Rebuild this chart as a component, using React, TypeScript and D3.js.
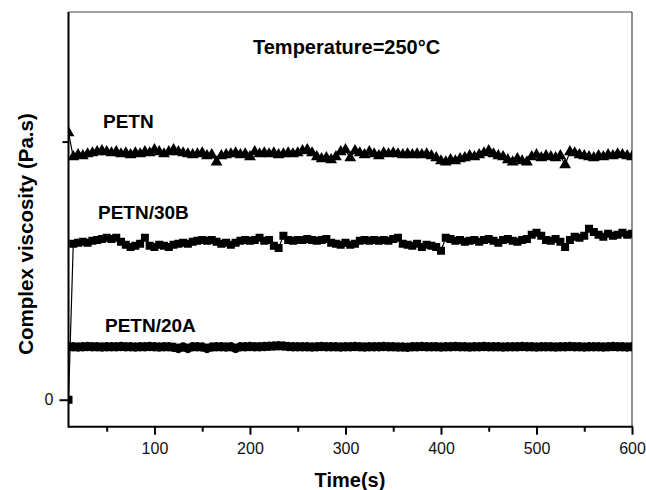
import React from "react";
import * as d3 from "d3";

// Time grid (s)
const times: number[] = [
  10, 15, 20, 25, 30, 35, 40, 45, 50, 55, 60, 65, 70, 75, 80, 85, 90, 95, 100, 105,
  110, 115, 120, 125, 130, 135, 140, 145, 150, 155, 160, 165, 170, 175, 180, 185, 190, 195, 200, 205,
  210, 215, 220, 225, 230, 235, 240, 245, 250, 255, 260, 265, 270, 275, 280, 285, 290, 295, 300, 305,
  310, 315, 320, 325, 330, 335, 340, 345, 350, 355, 360, 365, 370, 375, 380, 385, 390, 395, 400, 405,
  410, 415, 420, 425, 430, 435, 440, 445, 450, 455, 460, 465, 470, 475, 480, 485, 490, 495, 500, 505,
  510, 515, 520, 525, 530, 535, 540, 545, 550, 555, 560, 565, 570, 575, 580, 585, 590, 595, 600,
];

const petn: number[] = [
  1034,
  941, 949, 945, 952, 956,
  960, 964, 960, 956, 960,
  952, 956, 949, 956, 952,
  960, 956, 968, 960, 952,
  960, 968, 960, 956, 952,
  949, 952, 956, 945, 949,
  921,
  945, 949, 952, 956, 949,
  952, 941, 960, 952, 956,
  952, 956, 949, 952, 956,
  952, 956, 964, 968, 956,
  941, 933, 937, 929, 941,
  960, 968, 937, 964, 956,
  949, 960, 952, 945, 956,
  952, 956, 952, 949, 952,
  949, 952, 949, 952, 945,
  937, 925, 921, 929, 925,
  933, 937, 945, 941, 949,
  956, 964, 952, 945, 941,
  929, 921, 933, 925, 921,
  941, 949, 937, 945, 941,
  937, 945, 910, 960, 956,
  949, 945, 941, 937, 945,
  941, 949, 945, 952, 949, 945, 941,
];

const petn30B: number[] = [
  0,
  604, 608, 612, 608, 616,
  619, 623, 627, 623, 627,
  612, 600, 592, 596, 604,
  627, 596, 592, 600, 596,
  592, 600, 604, 608, 604,
  612, 616, 619, 616, 619,
  612, 604, 608, 600, 608,
  616, 619, 616, 619, 627,
  616, 619, 596, 588, 635,
  619, 616, 619, 619, 623,
  619, 616, 619, 623, 608,
  604, 600, 608, 600, 604,
  616, 619, 616, 619, 616,
  619, 616, 623, 627, 604,
  600, 596, 604, 592, 600,
  596, 592, 577, 627, 623,
  616, 619, 612, 616, 619,
  612, 619, 623, 616, 608,
  619, 623, 616, 612, 619,
  623, 639, 647, 635, 619,
  616, 623, 612, 592, 619,
  631, 627, 635, 662, 650,
  639, 631, 643, 635, 639,
  647, 639, 643,
];

const petn20A: number[] = [
  205, 205, 204, 205, 206, 205, 205, 204, 205, 205,
  205, 206, 205, 205, 204, 205, 205, 206, 205, 204,
  205, 205, 203, 199, 204, 199, 205, 205, 204, 199,
  204, 205, 205, 204, 205, 199, 205, 205, 206, 205,
  205, 206, 207, 208, 209, 208, 206, 205, 205, 205,
  205, 204, 205, 206, 205, 205, 205, 204, 205, 205,
  206, 205, 204, 205, 205, 205, 206, 205, 205, 204,
  204, 203, 205, 205, 206, 205, 205, 205, 204, 205,
  205, 206, 205, 205, 204, 205, 205, 206, 205, 205,
  205, 204, 205, 205, 205, 206, 205, 205, 204, 205,
  205, 205, 204, 205, 205, 206, 205, 205, 204, 205,
  205, 205, 204, 205, 206, 205, 205, 204, 205,
];

const xMajorTicks: number[] = [100, 200, 300, 400, 500, 600];
const xMinorTicks: number[] = [50, 150, 250, 350, 450, 550];
const yMajorTicks: number[] = [0];
const yMinorTicks: number[] = [1000];

const seriesNames: string[] = ["PETN", "PETN/30B", "PETN/20A"];

const W = 646;
const H = 490;
const L = 68.5;
const R = 632;
const T = 12;
const B = 426.7;

const FONT = "'Liberation Sans', Arial, Helvetica, sans-serif";

export default function App() {
  const x = d3.scaleLinear().domain([10, 600]).range([L, R]);
  const y = d3.scaleLinear().domain([-104.5, 1502]).range([B, T]);

  const series = [
    { name: seriesNames[0], values: petn, symbol: d3.symbolTriangle, size: 60 },
    { name: seriesNames[1], values: petn30B, symbol: d3.symbolSquare, size: 64 },
    { name: seriesNames[2], values: petn20A, symbol: d3.symbolCircle, size: 72 },
  ];

  const line = d3
    .line<number>()
    .x((_, i) => x(times[i]))
    .y((d) => y(d));

  const xAxisRef = React.useRef<SVGGElement>(null);
  const yAxisRef = React.useRef<SVGGElement>(null);

  React.useEffect(() => {
    if (xAxisRef.current) {
      const g = d3.select(xAxisRef.current);
      g.selectAll("*").remove();
      const major = g.append("g").call(
        d3.axisBottom(x).tickValues(xMajorTicks).tickSize(8).tickSizeOuter(0).tickPadding(8).tickFormat(d3.format("d"))
      );
      major.select(".domain").remove();
      const minor = g.append("g").call(
        d3.axisBottom(x).tickValues(xMinorTicks).tickSize(5).tickSizeOuter(0).tickFormat(() => "")
      );
      minor.select(".domain").remove();
      g.selectAll(".tick line").attr("stroke", "#000").attr("stroke-width", 2);
      g.selectAll(".tick text").attr("font-size", 16).attr("font-family", FONT).attr("fill", "#111");
    }
    if (yAxisRef.current) {
      const g = d3.select(yAxisRef.current);
      g.selectAll("*").remove();
      const major = g.append("g").call(
        d3.axisLeft(y).tickValues(yMajorTicks).tickSize(9).tickSizeOuter(0).tickPadding(6).tickFormat(d3.format("d"))
      );
      major.select(".domain").remove();
      const minor = g.append("g").call(
        d3.axisLeft(y).tickValues(yMinorTicks).tickSize(6).tickSizeOuter(0).tickFormat(() => "")
      );
      minor.select(".domain").remove();
      g.selectAll(".tick line").attr("stroke", "#000").attr("stroke-width", 2);
      g.selectAll(".tick text").attr("font-size", 16).attr("font-family", FONT).attr("fill", "#111");
    }
  });

  return (
    <svg
      width={W}
      height={H}
      style={{ position: "absolute", left: 0, top: 0, background: "#fff" }}
      fontFamily={FONT}
    >
      <defs>
        <clipPath id="plotClip">
          <rect x={L} y={T} width={R - L} height={B - T} />
        </clipPath>
      </defs>
      <rect x={0} y={0} width={W} height={H} fill="#fff" />

      {/* frame top/right */}
      <line x1={L} x2={R} y1={T} y2={T} stroke="#444" strokeWidth={1.2} />
      <line x1={R} x2={R} y1={T} y2={B} stroke="#444" strokeWidth={1.2} />

      <g clipPath="url(#plotClip)">
        {series.map((s) => (
          <g key={s.name}>
            <path d={line(s.values) || ""} fill="none" stroke="#000" strokeWidth={1.2} />
            {s.values.map((v, i) => (
              <path
                key={i}
                d={d3.symbol().type(s.symbol).size(s.size)() || ""}
                transform={`translate(${x(times[i])},${y(v)})`}
                fill="#000"
              />
            ))}
          </g>
        ))}
      </g>

      {/* axes lines */}
      <line x1={L} x2={R + 1} y1={B} y2={B} stroke="#000" strokeWidth={2} />
      <line x1={L} x2={L} y1={T} y2={B + 1} stroke="#000" strokeWidth={2} />

      <g ref={xAxisRef} transform={`translate(0,${B})`} />
      <g ref={yAxisRef} transform={`translate(${L},0)`} />

      {/* titles */}
      <text x={350} y={487} textAnchor="middle" fontSize={20} fontWeight="bold" fill="#000">
        Time(s)
      </text>
      <text
        transform="translate(33,234) rotate(-90)"
        textAnchor="middle"
        fontSize={20.5}
        fontWeight="bold"
        fill="#000"
      >
        Complex viscosity (Pa.s)
      </text>
      <text x={253} y={54} fontSize={20} fontWeight="bold" fill="#000">
        Temperature=250°C
      </text>

      {/* series labels */}
      <text x={103} y={128} fontSize={19} fontWeight="bold" fill="#000">
        {seriesNames[0]}
      </text>
      <text x={98} y={219} fontSize={19} fontWeight="bold" fill="#000">
        {seriesNames[1]}
      </text>
      <text x={105} y={332} fontSize={19} fontWeight="bold" fill="#000">
        {seriesNames[2]}
      </text>
    </svg>
  );
}
